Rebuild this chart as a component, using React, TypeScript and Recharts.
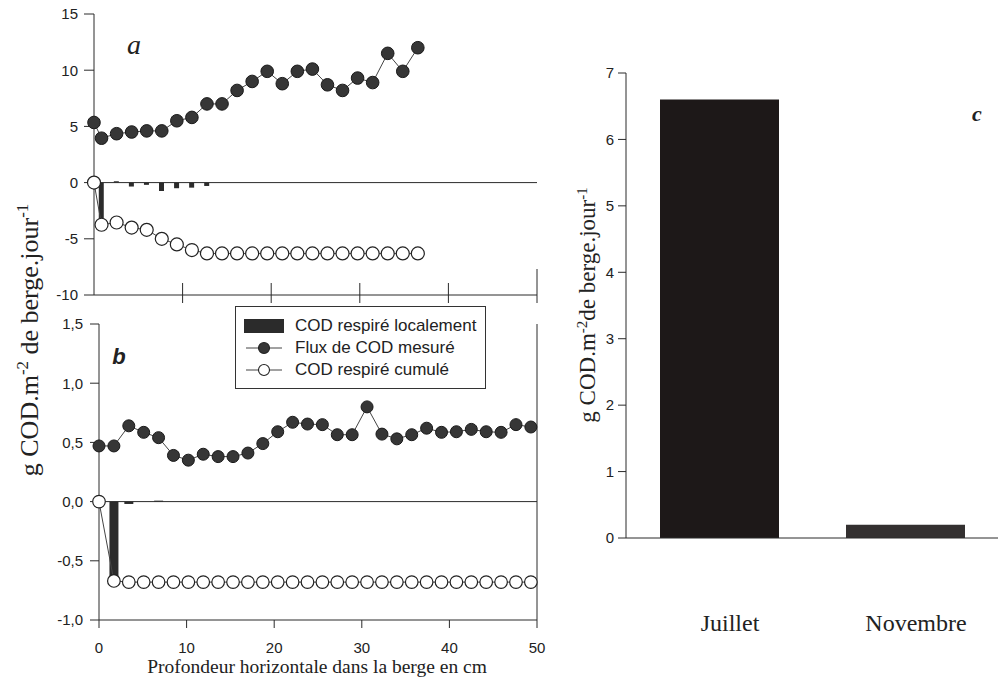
import React from 'react';
import { ComposedChart, BarChart, Bar, Line, XAxis, YAxis, ReferenceLine, Cell } from 'recharts';

// ---- Panel a (Juillet) ----
const depthA = [0, 0.85, 2.55, 4.25, 5.95, 7.65, 9.35, 11.05, 12.75, 14.45, 16.15, 17.85, 19.55, 21.25, 22.95, 24.65, 26.35, 28.05, 29.75, 31.45, 33.15, 34.85, 36.55];
const fluxA = [5.35, 3.95, 4.35, 4.5, 4.6, 4.6, 5.5, 5.8, 7.0, 7.0, 8.2, 9.0, 9.9, 8.8, 9.9, 10.1, 8.7, 8.2, 9.3, 8.9, 11.5, 9.9, 12.0];
const cumA = [0, -3.75, -3.55, -4.0, -4.2, -5.0, -5.5, -6.0, -6.3, -6.3, -6.3, -6.3, -6.3, -6.3, -6.3, -6.3, -6.3, -6.3, -6.3, -6.3, -6.3, -6.3, -6.3];
const localA = [null, -3.75, 0.12, -0.35, -0.2, -0.75, -0.5, -0.45, -0.3, null, null, null, null, null, null, null, null, null, null, null, null, null, null];
const ticksA = [-10, -5, 0, 5, 10, 15];

// ---- Panel b (Novembre) ----
const depthB = [0, 1.7, 3.4, 5.1, 6.8, 8.5, 10.2, 11.9, 13.6, 15.3, 17, 18.7, 20.4, 22.1, 23.8, 25.5, 27.2, 28.9, 30.6, 32.3, 34, 35.7, 37.4, 39.1, 40.8, 42.5, 44.2, 45.9, 47.6, 49.3];
const fluxB = [0.47, 0.47, 0.64, 0.585, 0.54, 0.39, 0.35, 0.4, 0.38, 0.38, 0.41, 0.49, 0.59, 0.67, 0.655, 0.65, 0.565, 0.565, 0.8, 0.57, 0.53, 0.565, 0.62, 0.585, 0.59, 0.61, 0.59, 0.585, 0.65, 0.63];
const cumB = [0, -0.67, -0.68, -0.68, -0.68, -0.68, -0.68, -0.68, -0.68, -0.68, -0.68, -0.68, -0.68, -0.68, -0.68, -0.68, -0.68, -0.68, -0.68, -0.68, -0.68, -0.68, -0.68, -0.68, -0.68, -0.68, -0.68, -0.68, -0.68, -0.68];
const localB = [null, -0.66, -0.02, null, 0.008, null, null, null, null, null, null, null, null, null, null, null, null, null, null, null, null, null, null, null, null, null, null, null, null, null];
const ticksB = [-1, -0.5, 0, 0.5, 1, 1.5];
const xTicks = [0, 10, 20, 30, 40, 50];

// ---- Panel c ----
const months = ['Juillet', 'Novembre'];
const totals = [6.6, 0.2];
const ticksC = [0, 1, 2, 3, 4, 5, 6, 7];
const monthColors = ['#1d1818', '#333030'];

const dataA = depthA.map((d, i) => ({ depth: d, flux: fluxA[i], cum: cumA[i], local: localA[i] }));
const dataB = depthB.map((d, i) => ({ depth: d, flux: fluxB[i], cum: cumB[i], local: localB[i] }));
const dataC = months.map((m, i) => ({ month: m, total: totals[i] }));

const SANS = '"Liberation Sans", Arial, sans-serif';
const SERIF = '"Liberation Serif", "Times New Roman", serif';
const INK = '#2a2a2a';

const tickStyle = { fontSize: 15, fill: '#222', fontFamily: SANS };

const CrossTick = (props: any) => {
  const { x, y, payload } = props;
  const up = payload && payload.value === 50 ? 26 : 12;
  return <line x1={x} x2={x} y1={y - up} y2={y + 8} stroke={INK} strokeWidth={1} />;
};

const MonthTick = (props: any) => {
  const { x, y, payload } = props;
  return (
    <text x={x + 11} y={y} textAnchor="middle" dominantBaseline="central" fontSize={24} fontFamily={SERIF} fill="#222">
      {payload.value}
    </text>
  );
};

const commaFmt = (v: number) => v.toFixed(1).replace('.', ',');

const supStyle = { fontSize: '0.65em', verticalAlign: '0.6em' };

export default function App() {
  return (
    <div style={{ position: 'absolute', left: 0, top: 0, width: 1002, height: 679, background: '#fff', overflow: 'hidden' }}>
      {/* Panel a */}
      <div style={{ position: 'absolute', left: 0, top: 0 }}>
        <ComposedChart width={560} height={320} data={dataA} margin={{ top: 14, right: 23, bottom: 15, left: 0 }}>
          <XAxis dataKey="depth" type="number" domain={[0, 50]} ticks={[10, 20, 30, 40, 50]} height={10}
            tickSize={0} tickMargin={0} tickLine={false} tick={CrossTick} axisLine={{ stroke: INK }} />
          <YAxis type="number" domain={[-10, 15]} ticks={ticksA} width={94} tickSize={10} tickMargin={6}
            tick={tickStyle} axisLine={{ stroke: INK }} tickLine={{ stroke: INK }} />
          <ReferenceLine y={0} stroke={INK} strokeWidth={1} />
          <Bar dataKey="local" fill="#2b2b2b" barSize={5} isAnimationActive={false} />
          <Line dataKey="flux" stroke="#444" strokeWidth={1} isAnimationActive={false}
            dot={{ r: 6.3, fill: '#363636', stroke: '#1a1a1a', strokeWidth: 1 }} />
          <Line dataKey="cum" stroke="#444" strokeWidth={1} isAnimationActive={false}
            dot={{ r: 6.5, fill: '#fff', stroke: '#222', strokeWidth: 1.2 }} />
        </ComposedChart>
      </div>

      {/* Panel b */}
      <div style={{ position: 'absolute', left: 0, top: 300 }}>
        <ComposedChart width={560} height={379} data={dataB} margin={{ top: 24, right: 23, bottom: 19, left: 0 }}>
          <XAxis dataKey="depth" type="number" domain={[0, 50]} ticks={xTicks} height={40}
            tickSize={8} tickMargin={14} tick={tickStyle} axisLine={{ stroke: INK }} tickLine={{ stroke: INK }} />
          <YAxis type="number" domain={[-1, 1.5]} ticks={ticksB} width={99} tickSize={9} tickMargin={7}
            tickFormatter={commaFmt} tick={tickStyle} axisLine={{ stroke: INK }} tickLine={{ stroke: INK }} />
          <ReferenceLine y={0} stroke={INK} strokeWidth={1} />
          <ReferenceLine x={50} stroke={INK} strokeWidth={1} />
          <Bar dataKey="local" fill="#2b2b2b" barSize={9} isAnimationActive={false} />
          <Line dataKey="flux" stroke="#444" strokeWidth={1} isAnimationActive={false}
            dot={{ r: 6, fill: '#363636', stroke: '#1a1a1a', strokeWidth: 1 }} />
          <Line dataKey="cum" stroke="#444" strokeWidth={1} isAnimationActive={false}
            dot={{ r: 6.3, fill: '#fff', stroke: '#222', strokeWidth: 1.2 }} />
        </ComposedChart>
      </div>

      {/* Panel c */}
      <div style={{ position: 'absolute', left: 560, top: 0 }}>
        <BarChart width={442} height={679} data={dataC} margin={{ top: 73, right: 4, bottom: 41, left: 0 }}>
          <XAxis dataKey="month" height={100} tickSize={0} tickMargin={85} tickLine={false} tick={MonthTick}
            axisLine={{ stroke: INK }} />
          <XAxis xAxisId="top" dataKey="month" orientation="top" height={0} tick={false} tickLine={false}
            axisLine={{ stroke: INK }} />
          <YAxis type="number" domain={[0, 7]} ticks={ticksC} width={66} tickSize={8} tickMargin={4}
            tick={{ fontSize: 15, fill: '#222', fontFamily: SANS }} axisLine={{ stroke: INK }} tickLine={{ stroke: INK }} />
          <YAxis yAxisId="right" orientation="right" domain={[0, 7]} width={0} tick={false} tickLine={false}
            axisLine={{ stroke: INK }} />
          <Bar dataKey="total" barSize={119} isAnimationActive={false}>
            {dataC.map((d, i) => <Cell key={d.month} fill={monthColors[i]} />)}
          </Bar>
        </BarChart>
      </div>

      {/* Panel letters */}
      <div style={{ position: 'absolute', left: 134, top: 45, transform: 'translate(-50%,-50%)', fontFamily: SERIF, fontStyle: 'italic', fontSize: 28, color: '#222', lineHeight: 1 }}>a</div>
      <div style={{ position: 'absolute', left: 119, top: 357, transform: 'translate(-50%,-50%)', fontFamily: SANS, fontStyle: 'italic', fontWeight: 'bold', fontSize: 22, color: '#222', lineHeight: 1 }}>b</div>
      <div style={{ position: 'absolute', left: 977, top: 114, transform: 'translate(-50%,-50%)', fontFamily: SERIF, fontStyle: 'italic', fontWeight: 'bold', fontSize: 22, color: '#222', lineHeight: 1 }}>c</div>

      {/* Left y label */}
      <div style={{ position: 'absolute', left: 29, top: 340, transform: 'translate(-50%,-50%) rotate(-90deg)', whiteSpace: 'nowrap', fontFamily: SERIF, fontSize: 26, color: '#222', lineHeight: 1 }}>
        g COD.m<sup style={supStyle}>-2</sup> de berge.jour<sup style={supStyle}>-1</sup>
      </div>
      {/* Right y label */}
      <div style={{ position: 'absolute', left: 587, top: 305, transform: 'translate(-50%,-50%) rotate(-90deg)', whiteSpace: 'nowrap', fontFamily: SERIF, fontSize: 23, color: '#222', lineHeight: 1 }}>
        g COD.m<sup style={supStyle}>-2</sup>de berge.jour<sup style={supStyle}>-1</sup>
      </div>

      {/* X title */}
      <div style={{ position: 'absolute', left: 317, top: 667, transform: 'translate(-50%,-50%)', whiteSpace: 'nowrap', fontFamily: SERIF, fontSize: 19.5, color: '#222', lineHeight: 1 }}>
        Profondeur horizontale dans la berge en cm
      </div>

      {/* Legend */}
      <div style={{ position: 'absolute', left: 235, top: 306, width: 249, height: 81, border: '1px solid #333', background: '#fff', fontFamily: SANS, fontSize: 17, color: '#222' }}>
        {[
          { label: 'COD respiré localement', kind: 'bar' },
          { label: 'Flux de COD mesuré', kind: 'filled' },
          { label: 'COD respiré cumulé', kind: 'open' },
        ].map((it, i) => (
          <div key={it.label} style={{ position: 'absolute', left: 8, top: 8 + i * 22, height: 22, display: 'flex', alignItems: 'center', whiteSpace: 'nowrap' }}>
            <svg width={40} height={22} style={{ marginRight: 11 }}>
              {it.kind === 'bar' ? (
                <rect x={0} y={4} width={40} height={14} fill="#2b2b2b" />
              ) : (
                <g>
                  <line x1={2} x2={38} y1={11} y2={11} stroke="#444" strokeWidth={1} />
                  <circle cx={20} cy={11} r={5.5} fill={it.kind === 'filled' ? '#363636' : '#fff'} stroke="#222" strokeWidth={1.1} />
                </g>
              )}
            </svg>
            <span>{it.label}</span>
          </div>
        ))}
      </div>
    </div>
  );
}
